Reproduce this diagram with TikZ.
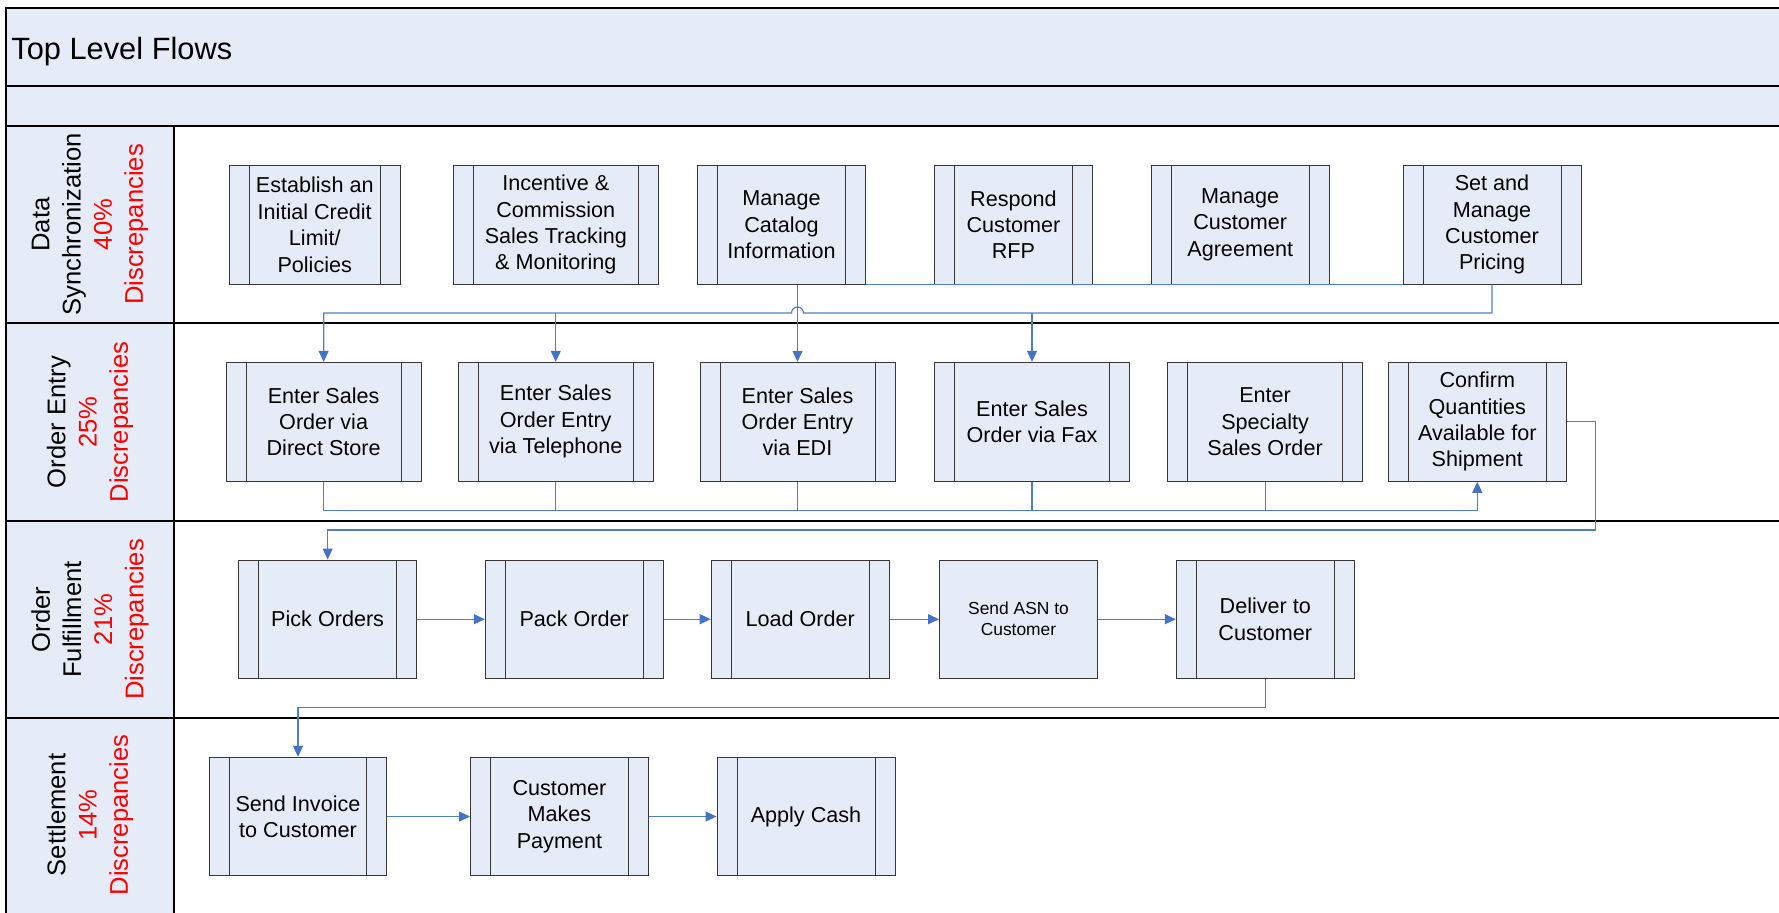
\documentclass[tikz,border=0pt]{standalone}
\usepackage{fontspec}
\setmainfont{Liberation Sans}
\usetikzlibrary{arrows.meta,calc}
\definecolor{fillc}{RGB}{230,236,247}
\definecolor{flowc}{RGB}{79,129,189}
\definecolor{tipc}{RGB}{68,114,196}
\definecolor{bordc}{RGB}{55,55,55}
\definecolor{discred}{RGB}{255,0,0}
\tikzset{
  frameline/.style={draw=black,line width=0.6pt},
  proc/.style={draw=bordc,fill=fillc,line width=0.5pt,inner sep=0pt,align=center,
    font=\fontsize{10.8}{13.2}\selectfont,
    path picture={
      \draw[bordc,line width=0.5pt] ([xshift=10pt]path picture bounding box.north west) -- ([xshift=10pt]path picture bounding box.south west);
      \draw[bordc,line width=0.5pt] ([xshift=-10pt]path picture bounding box.north east) -- ([xshift=-10pt]path picture bounding box.south east);
    }},
  plainproc/.style={draw=bordc,fill=fillc,line width=0.5pt,inner sep=0pt,align=center,
    font=\fontsize{8.7}{10.5}\selectfont},
  lanelabel/.style={rotate=90,align=center,inner sep=0pt,font=\fontsize{12.8}{15.6}\selectfont},
  flow/.style={draw=flowc,line width=0.6pt},
  flowarrow/.style={flow,-{Triangle[length=5.5pt,width=5pt,color=tipc]}},
}
\newcommand{\disc}[1]{\textcolor{discred}{#1}}
\begin{document}
\begin{tikzpicture}[x=0.5pt,y=-0.5pt]
\useasboundingbox (0,0) rectangle (1779,912);
\clip (0,0) rectangle (1779,912);
% frame and bands
\fill[fillc] (6,8) rectangle (1800,126);
\fill[fillc] (6,126) rectangle (174,920);
\draw[frameline] (1800,8) -- (6,8) -- (6,920);
\draw[frameline] (6,86) -- (1800,86);
\draw[frameline] (6,126) -- (1800,126);
\draw[frameline] (6,323) -- (1800,323);
\draw[frameline] (6,521) -- (1800,521);
\draw[frameline] (6,718) -- (1800,718);
\draw[frameline] (174,126) -- (174,920);
\node[anchor=west,inner sep=0pt,font=\fontsize{15.4}{18}\selectfont] (title) at (11,51.5) {Top Level Flows};
% lane labels
\node[lanelabel] (lane1) at (90,224.5) {Data\\Synchronization\\\disc{40\%}\\\disc{Discrepancies}};
\node[lanelabel] (lane2) at (90,422) {Order Entry\\\disc{25\%}\\\disc{Discrepancies}};
\node[lanelabel] (lane3) at (90,619.5) {Order\\Fulfillment\\\disc{21\%}\\\disc{Discrepancies}};
\node[lanelabel] (lane4) at (90,815) {Settlement\\\disc{14\%}\\\disc{Discrepancies}};
% Data synchronization
\node[proc,minimum width=85.75pt,minimum height=59.25pt] (credit) at (314.75,224.75) {Establish an\\Initial Credit\\Limit/\\Policies};
\node[proc,minimum width=102.2pt,minimum height=59.25pt] (incentive) at (555.8,224.75) {Incentive \&\\Commission\\Sales Tracking\\\& Monitoring};
\node[proc,minimum width=84.15pt,minimum height=59.25pt] (catalog) at (781.5,224.75) {Manage\\Catalog\\Information};
\node[proc,minimum width=79pt,minimum height=59.25pt] (rfp) at (1013.4,224.75) {Respond\\Customer\\RFP};
\node[proc,minimum width=88.85pt,minimum height=59.25pt] (agreement) at (1240.2,224.75) {Manage\\Customer\\Agreement};
\node[proc,minimum width=89pt,minimum height=59.25pt] (pricing) at (1492,224.75) {Set and\\Manage\\Customer\\Pricing};
% Order entry
\node[proc,minimum width=97.35pt,minimum height=59.5pt] (direct) at (323.65,421.8) {Enter Sales\\Order via\\Direct Store};
\node[proc,minimum width=97.25pt,minimum height=59.5pt] (phone) at (555.75,421.8) {Enter Sales\\Order Entry\\via Telephone};
\node[proc,minimum width=97.5pt,minimum height=59.5pt] (edi) at (797.5,421.8) {Enter Sales\\Order Entry\\via EDI};
\node[proc,minimum width=97.7pt,minimum height=59.5pt] (fax) at (1032,421.8) {Enter Sales\\Order via Fax};
\node[proc,minimum width=97.6pt,minimum height=59.5pt] (special) at (1265.1,421.8) {Enter\\Specialty\\Sales Order};
\node[proc,minimum width=89pt,minimum height=59.5pt] (confirm) at (1477.3,421.8) {Confirm\\Quantities\\Available for\\Shipment};
% Order fulfillment
\node[proc,minimum width=88.85pt,minimum height=59.15pt] (pick) at (327.65,619.2) {Pick Orders};
\node[proc,minimum width=88.85pt,minimum height=59.15pt] (pack) at (574.15,619.2) {Pack Order};
\node[proc,minimum width=89pt,minimum height=59.15pt] (load) at (800.2,619.2) {Load Order};
\node[plainproc,minimum width=79pt,minimum height=59.15pt] (asn) at (1018.5,619.2) {Send ASN to\\Customer};
\node[proc,minimum width=89pt,minimum height=59.15pt] (deliver) at (1265.3,619.2) {Deliver to\\Customer};
% Settlement
\node[proc,minimum width=88.6pt,minimum height=59.2pt] (invoice) at (298,816.5) {Send Invoice\\to Customer};
\node[proc,minimum width=88.85pt,minimum height=59.2pt] (payment) at (559.4,816.5) {Customer\\Makes\\Payment};
\node[proc,minimum width=89pt,minimum height=59.2pt] (cash) at (806,816.5) {Apply Cash};
% connectors
\coordinate (bus1) at (0,313);
\coordinate (bus2) at (0,510.5);
\coordinate (turn3) at (1595.7,530);
\coordinate (bus4) at (0,707.7);
\draw[flow] (catalog.south east) -- (pricing.south west);
\draw[flowarrow] (pricing.south) |- ($(edi.north |- bus1)+(6,0)$) arc[start angle=0,end angle=180,radius=3pt] -- (direct.north |- bus1) -- (direct.north);
\draw[flowarrow] (phone.north |- bus1) -- (phone.north);
\draw[flowarrow] (fax.north |- bus1) -- (fax.north);
\draw[flowarrow] (edi.north |- catalog.south) -- (edi.north);
\draw[flowarrow] (direct.south) |- (confirm.south |- bus2) -- (confirm.south);
\draw[flow] (phone.south) -- (phone.south |- bus2);
\draw[flow] (edi.south) -- (edi.south |- bus2);
\draw[flow] (fax.south) -- (fax.south |- bus2);
\draw[flow] (special.south) -- (special.south |- bus2);
\draw[flow,line width=0.9pt] (phone.south |- bus2) -- (confirm.south |- bus2);
\draw[flowarrow] (confirm.east) -| (turn3) -| (pick.north);
\draw[flowarrow] (pick.east) -- (pack.west);
\draw[flowarrow] (pack.east) -- (load.west);
\draw[flowarrow] (load.east) -- (asn.west);
\draw[flowarrow] (asn.east) -- (deliver.west);
\draw[flowarrow] (deliver.south) |- (invoice.north |- bus4) -- (invoice.north);
\draw[flowarrow] (invoice.east) -- (payment.west);
\draw[flowarrow] (payment.east) -- (cash.west);
\end{tikzpicture}
\end{document}
